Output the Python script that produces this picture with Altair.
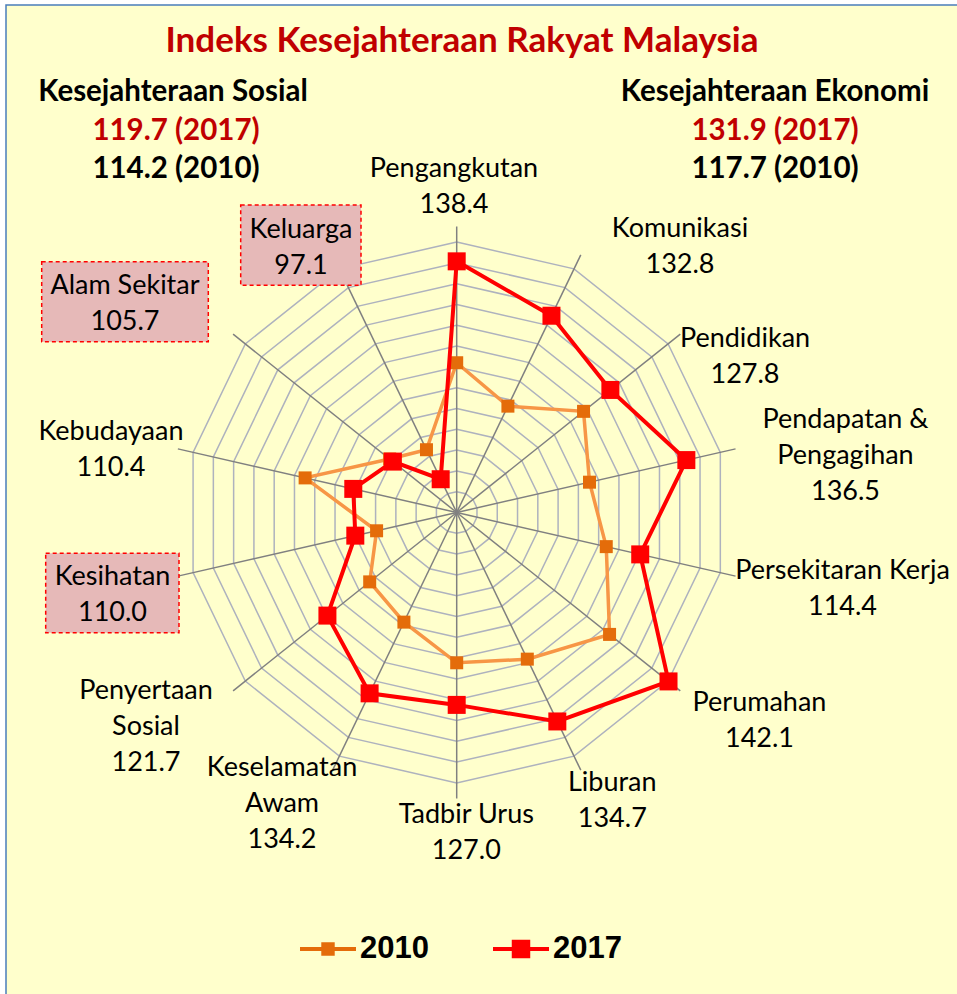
import altair as alt
import pandas as pd

# ---------------- data ----------------
categories = ["Pengangkutan", "Komunikasi", "Pendidikan", "Pendapatan & Pengagihan",
              "Persekitaran Kerja", "Perumahan", "Liburan", "Tadbir Urus",
              "Keselamatan Awam", "Penyertaan Sosial", "Kesihatan", "Kebudayaan",
              "Alam Sekitar", "Keluarga"]
# values printed in the category labels (2017)
label_values_2017 = [138.4, 132.8, 127.8, 136.5, 114.4, 142.1, 134.7, 127.0,
                     134.2, 121.7, 110.0, 110.4, 105.7, 97.1]
# values as plotted on the radar
values_2017 = [138.3, 132.0, 127.8, 135.3, 126.2, 142.1, 134.6, 127.0,
               128.6, 121.8, 110.0, 110.4, 105.7, 97.1]
values_2010 = [118.8, 112.7, 121.2, 116.2, 119.5, 127.6, 121.3, 118.9,
               113.4, 111.4, 105.8, 119.9, 106.5, 103.4]
series_years = ["2010", "2017"]
summary_years = ["2017", "2010"]
sosial_values = [119.7, 114.2]
ekonomi_values = [131.9, 117.7]
grid_values = [94, 98, 102, 106, 110, 114, 118, 122, 126, 130, 134, 138, 142]
scale_min = 90
spoke_max = 145
title_text = "Indeks Kesejahteraan Rakyat Malaysia"
boxed_categories = ["Kesihatan", "Alam Sekitar", "Keluarga"]

# ---------------- layout ----------------
W, H = 957, 994
CX, CY, PPU = 456.7, 512.5, 5.2
N = len(categories)
LINE_H = 36
LABEL_FONT = "Lato"

label_breaks = {
    "Pendapatan & Pengagihan": ["Pendapatan &", "Pengagihan"],
    "Keselamatan Awam": ["Keselamatan", "Awam"],
    "Penyertaan Sosial": ["Penyertaan", "Sosial"],
}
label_anchor = {  # centre x, first baseline y (pixels)
    "Pengangkutan": (454, 177), "Komunikasi": (680, 237), "Pendidikan": (745, 346.5),
    "Pendapatan & Pengagihan": (845.5, 428), "Persekitaran Kerja": (842.5, 579),
    "Perumahan": (759.5, 710.5), "Liburan": (612.3, 790.5), "Tadbir Urus": (466.3, 822.5),
    "Keselamatan Awam": (282, 776), "Penyertaan Sosial": (146, 699),
    "Kesihatan": (112.5, 585), "Kebudayaan": (111, 440), "Alam Sekitar": (125, 294),
    "Keluarga": (301, 238),
}
box_rect = {
    "Kesihatan": (45.7, 553.3, 179, 632.7),
    "Alam Sekitar": (41.7, 261.7, 208.3, 341.7),
    "Keluarga": (240.7, 205, 361, 285.3),
}

x_scale = alt.Scale(domain=[-CX / PPU, (W - CX) / PPU], nice=False, zero=False)
y_scale = alt.Scale(domain=[-(H - CY) / PPU, CY / PPU], nice=False, zero=False)
X = lambda f: alt.X(f, type="quantitative", scale=x_scale, axis=None)
Y = lambda f: alt.Y(f, type="quantitative", scale=y_scale, axis=None)


def polar(ch):
    return (ch.transform_calculate(ang=f"datum.idx * 2 * PI / {N}", r=f"datum.value - {scale_min}")
              .transform_calculate(ux="datum.r * sin(datum.ang)", uy="datum.r * cos(datum.ang)"))


def to_units(ch, xs, ys):
    calc = {}
    for f in xs:
        calc["u_" + f] = f"(datum.{f} - {CX}) / {PPU}"
    for f in ys:
        calc["u_" + f] = f"({CY} - datum.{f}) / {PPU}"
    return ch.transform_calculate(**calc)


# ---------------- tables ----------------
rows = []
for year, vals in zip(series_years, [values_2010, values_2017]):
    for i in range(N + 1):
        j = i % N
        rows.append({"year": year, "idx": i, "category": categories[j], "value": vals[j]})
series_df = pd.DataFrame(rows)

grid_df = pd.DataFrame([{"level": g, "idx": i, "value": g} for g in grid_values for i in range(N + 1)])
spoke_df = pd.DataFrame({"idx": list(range(N)), "value": [spoke_max] * N, "zero": [0] * N})

text_rows = []
for cat, v in zip(categories, label_values_2017):
    lines = label_breaks.get(cat, [cat]) + [f"{v:.1f}"]
    ax, ay = label_anchor[cat]
    for k, t in enumerate(lines):
        text_rows.append({"text": t, "ax": ax, "ay": ay + k * LINE_H})
label_df = pd.DataFrame(text_rows)

box_df = pd.DataFrame([{"cat": c, "x0": box_rect[c][0], "y0": box_rect[c][1],
                        "x1": box_rect[c][2], "y1": box_rect[c][3]} for c in boxed_categories])

head_rows = [
    {"text": title_text, "ax": 462, "ay": 52, "col": "#C00000", "fs": 35},
    {"text": "Kesejahteraan Sosial", "ax": 173, "ay": 101, "col": "#000000", "fs": 29.5},
    {"text": f"{sosial_values[0]:.1f} ({summary_years[0]})", "ax": 176, "ay": 140, "col": "#C00000", "fs": 29.5},
    {"text": f"{sosial_values[1]:.1f} ({summary_years[1]})", "ax": 176, "ay": 178, "col": "#000000", "fs": 29.5},
    {"text": "Kesejahteraan Ekonomi", "ax": 775, "ay": 101, "col": "#000000", "fs": 29.5},
    {"text": f"{ekonomi_values[0]:.1f} ({summary_years[0]})", "ax": 775, "ay": 140, "col": "#C00000", "fs": 29.5},
    {"text": f"{ekonomi_values[1]:.1f} ({summary_years[1]})", "ax": 775, "ay": 178, "col": "#000000", "fs": 29.5},
]
head_df = pd.DataFrame(head_rows)

# ---------------- layers ----------------
frame = alt.Chart(pd.DataFrame({"a": [0]})).mark_rect(
    fill="#FFFFCC", stroke="#4A7EBB", strokeWidth=1.5
).encode(x=alt.value(6), x2=alt.value(1100), y=alt.value(5), y2=alt.value(1100))

grid = polar(alt.Chart(grid_df)).mark_line(color="#AEB2BE", strokeWidth=1.5).encode(
    x=X("ux"), y=Y("uy"), detail="level:N", order="idx:Q")

spokes = polar(alt.Chart(spoke_df)).mark_rule(color="#808080", strokeWidth=1.5).encode(
    x=X("zero"), y=Y("zero"), x2="ux:Q", y2="uy:Q")

def series_layers(year, line_col, line_w, mark_col, mark_size):
    base = polar(alt.Chart(series_df).transform_filter(f"datum.year == '{year}'"))
    line = base.mark_line(color=line_col, strokeWidth=line_w).encode(
        x=X("ux"), y=Y("uy"), order="idx:Q")
    pts = base.transform_filter(f"datum.idx < {N}").mark_square(
        color=mark_col, size=mark_size, opacity=1).encode(x=X("ux"), y=Y("uy"))
    return [line, pts]

boxes = to_units(alt.Chart(box_df), ["x0", "x1"], ["y0", "y1"]).mark_rect(
    fill="#E6B9B8", stroke="#FF0000", strokeDash=[4, 3], strokeWidth=1.5
).encode(x=X("u_x0"), x2="u_x1:Q", y=Y("u_y0"), y2="u_y1:Q")

labels = to_units(alt.Chart(label_df), ["ax"], ["ay"]).mark_text(
    font=LABEL_FONT, fontSize=27, color="black", align="center", baseline="alphabetic"
).encode(x=X("u_ax"), y=Y("u_ay"), text="text:N")

heads = to_units(alt.Chart(head_df), ["ax"], ["ay"]).mark_text(
    font=LABEL_FONT, fontWeight="bold", align="center", baseline="alphabetic"
).encode(x=X("u_ax"), y=Y("u_ay"), text="text:N",
         color=alt.Color("col:N", scale=None), size=alt.Size("fs:Q", scale=None))

path2010 = "M-1,-0.075L1,-0.075L1,0.075L-1,0.075Z M-0.24,-0.24L0.24,-0.24L0.24,0.24L-0.24,0.24Z"
path2017 = "M-1,-0.07L1,-0.07L1,0.07L-1,0.07Z M-0.33,-0.33L0.33,-0.33L0.33,0.33L-0.33,0.33Z"
leg = alt.Legend(title=None, orient="none", legendX=300, legendY=921, direction="horizontal",
                 labelFont="Liberation Sans", labelFontSize=31, labelFontWeight="bold",
                 labelColor="black", labelOffset=4, columnPadding=64, symbolSize=3136,
                 symbolStrokeWidth=0, symbolOpacity=1, padding=0)
legend_layer = alt.Chart(pd.DataFrame({"year": series_years})).mark_point(
    filled=True, opacity=1, size=3136, strokeWidth=0
).encode(
    x=alt.value(-3000), y=alt.value(-3000),
    color=alt.Color("year:N", scale=alt.Scale(domain=series_years, range=["#E46C0A", "#FF0000"]), legend=leg),
    shape=alt.Shape("year:N", scale=alt.Scale(domain=series_years, range=[path2010, path2017]), legend=leg),
)

layers = [frame, grid, spokes, boxes]
layers += series_layers("2010", "#F79646", 3.5, "#E46C0A", 169)
layers += series_layers("2017", "#FF0000", 4, "#FF0000", 324)
layers += [labels, heads, legend_layer]

chart = alt.layer(*layers).properties(
    width=W, height=H, padding=0, autosize="none", background="white"
).configure_view(stroke=None)

chart.save("out.html", embed_options={"renderer": "svg", "actions": False})
